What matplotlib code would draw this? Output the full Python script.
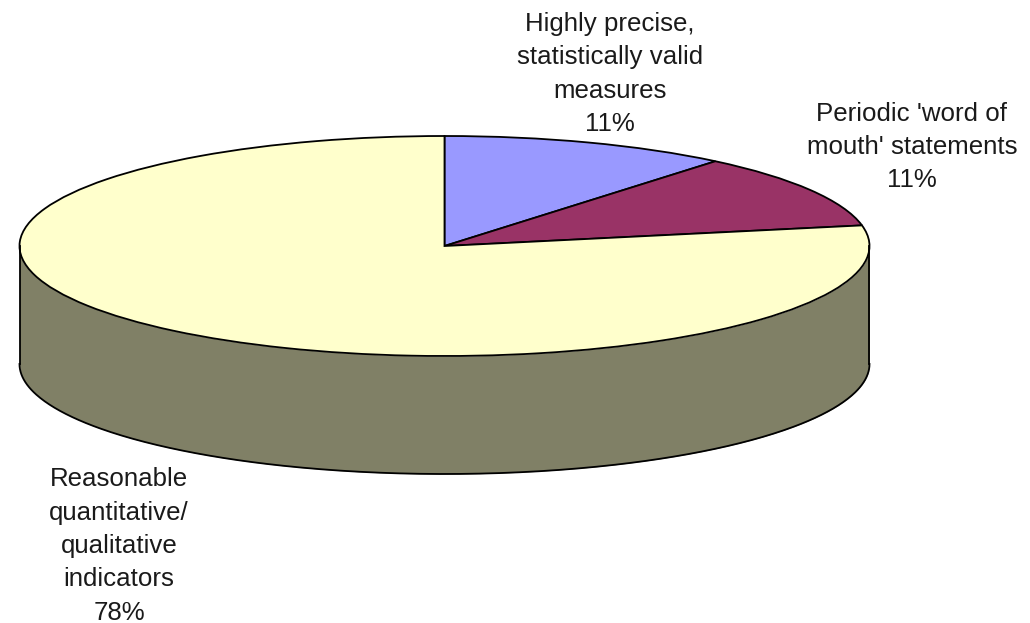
import numpy as np
import matplotlib
matplotlib.use("Agg")
import matplotlib.pyplot as plt

plt.rcParams["font.family"] = ["Liberation Sans", "DejaVu Sans"]

labels = [
    "Highly precise,\nstatistically valid\nmeasures\n11%",
    "Periodic 'word of\nmouth' statements\n11%",
    "Reasonable\nquantitative/\nqualitative\nindicators\n78%",
]
shares = [11, 11, 78]
colors = ["#9999FF", "#993366", "#FFFFCC"]
side_color = "#808066"

W, H = 1030, 623
cx, cy, rx, ry = 444.5, 246, 425, 110
depth = 118 / ry
lw = 1.3

fig = plt.figure(figsize=(W / 100, H / 100), dpi=100, facecolor="white")
ax = fig.add_axes([(cx - rx) / W, 1 - (cy + ry) / H, 2 * rx / W, 2 * ry / H])

# side wall of the disc, only the front half shows
t = np.linspace(np.pi, 2 * np.pi, 400)
ax.fill_between(np.cos(t), np.sin(t), np.sin(t) - depth, color=side_color, lw=0, clip_on=False)
ax.plot(np.cos(t), np.sin(t) - depth, color="black", lw=lw, clip_on=False)
for s in [-1, 1]:
    ax.plot([s, s], [0, -depth], color="black", lw=lw, clip_on=False)

ax.pie(shares, colors=colors, startangle=90, counterclock=False, radius=1, frame=False,
       wedgeprops={"edgecolor": "black", "linewidth": lw, "clip_on": False})
ax.set_aspect("auto")
ax.set_xlim(-1, 1)
ax.set_ylim(-1, 1)
ax.axis("off")

# label anchors in figure pixels
fs = 18.6
spacing = 1.49
color = "#1a1a1a"
fig.text(610 / W, 1 - 74 / H, labels[0], ha="center", va="center", fontsize=fs, linespacing=spacing, color=color)
fig.text(912 / W, 1 - 147 / H, labels[1], ha="center", va="center", fontsize=fs, linespacing=spacing, color=color)
fig.text(119 / W, 1 - 546 / H, labels[2], ha="center", va="center", fontsize=fs, linespacing=spacing, color=color)

fig.savefig("out.png", dpi=100)
